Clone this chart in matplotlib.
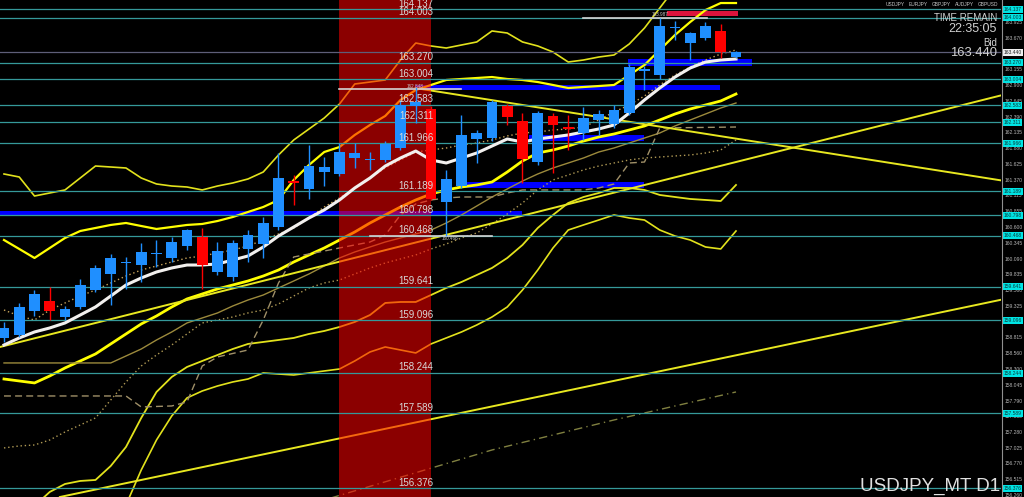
import matplotlib
matplotlib.use("Agg")
import matplotlib.pyplot as plt
from matplotlib.transforms import blended_transform_factory
from matplotlib.patches import Rectangle
from matplotlib.lines import Line2D

plt.rcParams['font.family'] = ['Liberation Sans', 'DejaVu Sans']

# ---------------- data ----------------
opens = [158.812, 158.860, 159.249, 159.411, 159.152, 159.314, 159.589, 159.849, 160.027, 159.994,
         160.173, 160.108, 160.302, 160.448, 159.881, 159.800, 160.254, 160.335, 160.610, 161.355,
         161.226, 161.501, 161.469, 161.728, 161.696, 161.696, 161.890, 162.571, 162.522, 161.015,
         161.274, 162.036, 162.052, 162.571, 162.328, 161.663, 162.409, 162.230, 162.133, 162.344,
         162.279, 162.457, 163.138, 163.073, 163.834, 163.591, 163.672, 163.786, 163.364]
highs = [159.071, 159.379, 159.589, 159.638, 159.330, 159.768, 159.994, 160.173, 160.124, 160.351,
         160.399, 160.448, 160.578, 160.594, 160.367, 160.399, 160.561, 160.772, 161.809, 161.453,
         161.939, 161.744, 161.971, 161.971, 161.825, 162.003, 162.668, 162.878, 162.571, 161.534,
         162.425, 162.182, 162.668, 162.603, 162.457, 162.490, 162.457, 162.425, 162.554, 162.506,
         162.587, 163.251, 163.219, 164.003, 163.948, 163.770, 163.932, 163.899, 163.462]
lows = [158.747, 158.828, 159.168, 159.103, 159.103, 159.282, 159.557, 159.346, 159.606, 159.719,
        159.962, 160.043, 160.237, 159.606, 159.832, 159.735, 160.043, 160.108, 160.561, 160.967,
        161.064, 161.274, 161.436, 161.566, 161.534, 161.663, 161.858, 162.295, 161.048, 160.466,
        161.242, 161.647, 162.003, 162.263, 161.323, 161.615, 161.485, 161.858, 162.020, 162.101,
        162.214, 162.425, 162.830, 163.008, 163.640, 163.316, 163.640, 163.348, 163.348]
closes = [158.974, 159.314, 159.525, 159.249, 159.282, 159.670, 159.946, 160.108, 160.043, 160.205,
          160.189, 160.367, 160.561, 159.994, 160.221, 160.351, 160.480, 160.675, 161.404, 161.323,
          161.598, 161.582, 161.825, 161.809, 161.712, 161.955, 162.587, 162.635, 161.064, 161.388,
          162.101, 162.133, 162.635, 162.392, 161.712, 162.457, 162.263, 162.198, 162.376, 162.441,
          162.506, 163.202, 163.170, 163.867, 163.851, 163.753, 163.867, 163.445, 163.440]

ma_white = [158.698, 158.812, 158.909, 158.974, 159.055, 159.184, 159.314, 159.492, 159.670, 159.784,
            159.881, 159.946, 159.994, 159.994, 160.011, 160.075, 160.140, 160.286, 160.464, 160.610,
            160.756, 160.886, 161.048, 161.242, 161.404, 161.598, 161.728, 161.841, 161.696, 161.647,
            161.728, 161.809, 161.922, 162.036, 161.987, 162.036, 162.068, 162.101, 162.149, 162.198,
            162.263, 162.457, 162.668, 162.862, 163.040, 163.186, 163.283, 163.316, 163.332]

band_up2 = [161.469, 161.420, 161.112, 161.161, 161.210, 161.404, 161.598, 161.582, 161.566, 161.404,
            161.307, 161.274, 161.258, 161.210, 161.274, 161.323, 161.388, 161.501, 161.777, 162.020,
            162.198, 162.376, 162.603, 162.927, 162.959, 162.992, 163.316, 163.591, 163.543, 163.510,
            163.559, 163.608, 163.786, 163.753, 163.608, 163.543, 163.445, 163.283, 163.316, 163.364,
            163.397, 163.575, 163.834, 164.158, 164.482]

band_up1 = [160.399, 160.254, 160.108, 160.270, 160.432, 160.545, 160.594, 160.643, 160.675, 160.626,
            160.578, 160.610, 160.643, 160.659, 160.707, 160.772, 160.853, 160.934, 161.048, 161.372,
            161.615, 161.825, 161.906, 162.101, 162.263, 162.409, 162.668, 162.830, 162.911, 162.992,
            163.008, 163.024, 163.040, 163.008, 162.992, 162.959, 162.911, 162.862, 162.878, 162.894,
            162.911, 163.073, 163.235, 163.478, 163.721, 163.932, 164.126, 164.239, 164.239]

ma_yellow = [158.147, 158.115, 158.083, 158.196, 158.326, 158.439, 158.553, 158.715, 158.877, 159.039,
             159.168, 159.314, 159.444, 159.525, 159.606, 159.670, 159.735, 159.816, 159.913, 160.043,
             160.157, 160.270, 160.399, 160.529, 160.675, 160.805, 160.934, 161.048, 161.145, 161.210,
             161.258, 161.291, 161.339, 161.501, 161.680, 161.809, 161.858, 161.922, 162.003, 162.068,
             162.117, 162.182, 162.247, 162.344, 162.441, 162.522, 162.587, 162.652, 162.765]

band_lo1_start = 2
band_lo1 = [156.090, 156.317, 156.446, 156.495, 156.511, 156.738, 157.046, 157.516, 157.937, 158.180,
            158.342, 158.439, 158.536, 158.633, 158.715, 158.747, 158.779, 158.812, 158.877, 158.925,
            158.990, 159.071, 159.184, 159.379, 159.395, 159.395, 159.508, 159.622, 159.719, 159.832,
            159.946, 160.108, 160.319, 160.594, 160.805, 160.999, 161.096, 161.161, 161.242, 161.242,
            161.210, 161.129, 161.096, 161.064, 161.048, 161.031, 161.291]

band_lo2_start = 8
band_lo2 = [156.106, 156.673, 157.159, 157.548, 157.840, 157.953, 158.034, 158.099, 158.147, 158.245,
            158.228, 158.212, 158.245, 158.277, 158.309, 158.439, 158.585, 158.666, 158.617, 158.569,
            158.715, 158.812, 158.909, 159.022, 159.152, 159.314, 159.589, 159.913, 160.270, 160.561,
            160.643, 160.723, 160.805, 160.756, 160.723, 160.561, 160.464, 160.399, 160.286, 160.254,
            160.545]

olive_idx = [0] + list(range(7, 49))
ma_olive = [158.407, 158.407, 158.520, 158.633, 158.779, 158.909, 159.055, 159.136, 159.217, 159.330,
            159.427, 159.508, 159.622, 159.735, 159.849, 159.978, 160.108, 160.205, 160.286, 160.367,
            160.432, 160.497, 160.561, 160.675, 160.805, 160.950, 161.096, 161.226, 161.355, 161.469,
            161.566, 161.647, 161.728, 161.825, 161.890, 161.971, 162.052, 162.133, 162.247, 162.344,
            162.441, 162.538, 162.619]

dotted_a = [159.265, 159.168, 159.103, 159.265, 159.379, 159.492, 159.589, 159.703, 159.816, 159.913,
            159.978, 160.043, 160.108, 160.140, 160.189, 160.237, 160.302, 160.399, 160.497, 160.594,
            160.756, 160.934, 161.080, 161.242, 161.404, 161.566, 161.696, 161.825, 161.858, 161.890,
            161.939, 161.971, 162.020, 162.085, 162.133, 162.149, 162.182, 162.198, 162.230, 162.344,
            162.473, 162.587, 162.733, 162.911, 163.073, 163.202, 163.316, 163.413, 163.478]

dotted_b = [157.030, 157.062, 157.078, 157.159, 157.289, 157.402, 157.516, 157.807, 158.099, 158.358,
            158.536, 158.698, 158.877, 159.055, 159.103, 159.152, 159.217, 159.265, 159.363, 159.492,
            159.622, 159.703, 159.751, 159.849, 159.946, 160.027, 160.092, 160.157, 160.254, 160.335,
            160.432, 160.513, 160.659, 160.821, 160.999, 161.210, 161.372, 161.453, 161.534, 161.598,
            161.647, 161.696, 161.728, 161.744, 161.761, 161.777, 161.809, 161.858, 162.020]

dashed_idx = [0, 8, 9, 11, 12, 13, 14, 16, 17, 18, 19, 20, 21, 22, 23, 24, 25, 26, 27, 28, 29, 30,
              31, 32, 33, 34, 38, 39, 40, 41, 42, 43, 48]
dashed_vals = [157.872, 157.872, 157.694, 157.710, 157.775, 158.358, 158.504, 158.617, 159.103, 159.703,
               160.124, 160.173, 160.221, 160.270, 160.319, 160.367, 160.480, 160.805, 160.983, 161.048,
               161.080, 161.096, 161.096, 161.096, 161.161, 161.210, 161.210, 161.242, 161.307, 161.647,
               161.663, 162.214, 162.230]

dashdot_idx = [21, 32, 40, 48]
dashdot_vals = [156.187, 156.997, 157.483, 157.937]

# trend lines: (bar index, price) anchor pairs
tl_up_main = [(0, 158.682), (48, 161.663)]
tl_down = [(27, 162.860), (48, 162.042)]
tl_up_low = [(10, 156.563), (48, 158.531)]

levels = [164.137, 164.003, 163.270, 163.004, 162.583, 162.311, 161.966, 161.189,
          160.798, 160.468, 159.641, 159.096, 158.244, 157.589, 156.376]
bid = 163.440

axis_ticks = [163.925, 163.670, 163.410, 163.155, 162.900, 162.645, 162.390, 162.135,
              161.880, 161.625, 161.370, 161.115, 160.855, 160.600, 160.345, 160.090, 159.835,
              159.580, 159.325, 159.070, 158.815, 158.560, 158.300, 158.045, 157.790, 157.535,
              157.280, 157.025, 156.770, 156.515, 156.260]

# blue zones: (start bar, end bar, low price, high price)
zone_x0 = [-0.3, 26.95, 34.4, 29.7, 40.9]
zone_x1 = [34.0, 46.95, 42.0, 42.0, 49.05]
zone_lo = [160.789, 162.831, 162.004, 161.242, 163.219]
zone_hi = [160.870, 162.911, 162.101, 161.339, 163.332]

crimson_zone = (43.5, 48.1, 164.029, 164.110)

# white marker lines: (start bar, end bar, price)
white_x0 = [21.97, 24.0, 38.0]
white_x1 = [30.0, 32.0, 46.1]
white_p = [162.846, 160.466, 164.003]

red_span = (21.97, 28.0)

symbols = ["USDJPY", "EURJPY", "GBPJPY", "AUDJPY", "GBPUSD"]

# ---------------- figure ----------------
W, H = 1024, 497
fig = plt.figure(figsize=(W / 100, H / 100), dpi=100, facecolor='black')
ax = fig.add_axes([0, 0, 1001 / W, 1])
ax.set_facecolor('black')
XMIN, XMAX = -0.262, 65.377
ax.set_xlim(XMIN, XMAX)
ax.set_ylim(156.235, 164.288)
ax.axis('off')

n = len(opens)
idx = list(range(n))

# blue zones
for x0, x1, lo, hi in zip(zone_x0, zone_x1, zone_lo, zone_hi):
    ax.add_patch(Rectangle((x0, lo), x1 - x0, hi - lo, facecolor='#0000ff', edgecolor='none', zorder=1.5))
cx0, cx1, clo, chi = crimson_zone
ax.add_patch(Rectangle((cx0, clo), cx1 - cx0, chi - clo, facecolor='#dc143c', edgecolor='none', zorder=1.5))

yel = '#ffff00'
yel_thin = '#e2e21c'
# bands and MAs
ax.plot(range(len(band_up2)), band_up2, color=yel_thin, lw=1.2, zorder=2)
ax.plot(idx, band_up1, color=yel, lw=1.6, zorder=2)
ax.plot(idx, ma_yellow, color=yel, lw=2.0, zorder=2)
ax.plot(range(band_lo1_start, band_lo1_start + len(band_lo1)), band_lo1, color=yel_thin, lw=1.3, zorder=2)
ax.plot(range(band_lo2_start, band_lo2_start + len(band_lo2)), band_lo2, color=yel_thin, lw=1.2, zorder=2)
ax.plot(olive_idx, ma_olive, color='#9c8a3c', lw=1.0, zorder=2)
ax.plot(idx, dotted_a, color='#c8a45a', lw=1.0, ls=(0, (1, 2)), zorder=2)
ax.plot(idx, dotted_b, color='#b09a55', lw=1.0, ls=(0, (1, 2)), zorder=2)
ax.plot(dashed_idx, dashed_vals, color='#a09068', lw=1.0, ls=(0, (5, 3)), zorder=2)
ax.plot(dashdot_idx, dashdot_vals, color='#808040', lw=1.0, ls=(0, (6, 3, 1, 3)), zorder=2)

# trend lines
ax.axline(tl_up_main[0], tl_up_main[1], color='#e8e820', lw=1.4, zorder=2)
ax.axline(tl_up_low[0], tl_up_low[1], color='#e8e820', lw=1.4, zorder=2)
(x1, y1), (x2, y2) = tl_down
slope = (y2 - y1) / (x2 - x1)
ax.plot([x1, XMAX], [y1, y1 + slope * (XMAX - x1)], color='#e8e820', lw=1.4, zorder=2)

# red time zone (semi-transparent overlay)
ax.axvspan(red_span[0], red_span[1], color='#ff0000', alpha=0.55, lw=0, zorder=3)

# horizontal levels
for lv in levels:
    ax.axhline(lv, color='#35999a', lw=0.9, zorder=3.5)
ax.axhline(bid, color='#5e5e78', lw=0.9, zorder=3.5)

# white marker lines
for x0, x1, p in zip(white_x0, white_x1, white_p):
    ax.plot([x0, x1], [p, p], color='#d4d4d4', lw=1.2, zorder=3.6)

# white MA
ax.plot(idx, ma_white, color='#f2f0ee', lw=2.2, zorder=4)

# candles
blue = '#1f8fff'
red = '#ff0000'
for i in idx:
    o, h, l, c = opens[i], highs[i], lows[i], closes[i]
    col = blue if c >= o else red
    ax.vlines(i, l, h, color=col, lw=1.0, zorder=5)
    bot = min(o, c)
    ht = max(abs(c - o), 0.022)
    ax.add_patch(Rectangle((i - 0.36, bot), 0.72, ht, facecolor=col, edgecolor='none', zorder=5))

# level labels
for lv in levels:
    ax.text(28.15, lv + 0.012, f"{lv:.3f}", ha='right', va='bottom', fontsize=7,
            color='#d8d8d8', zorder=6)

# small price notes
ax.text(26.4, 162.88, "162.848", ha='left', va='center', fontsize=3.3, color='#c8c8c8', zorder=6)
ax.text(28.7, 160.43, "160.466", ha='left', va='center', fontsize=3.3, color='#c8c8c8', zorder=6)
ax.text(42.5, 164.06, "163.987", ha='left', va='center', fontsize=3.3, color='#c8c8c8', zorder=6)

# right price scale
trans = blended_transform_factory(fig.transFigure, ax.transData)
fig.add_artist(Line2D([1002 / W, 1002 / W], [0, 1], transform=fig.transFigure, color='#909090', lw=0.8))
for t in axis_ticks:
    ax.text(1005 / W, t, f"{t:.3f}", transform=trans, ha='left', va='center', fontsize=3.6,
            color='#b4b4b4', clip_on=False, zorder=6)
for lv in levels:
    ax.text(1012.5 / W, lv, f"{lv:.3f}", transform=trans, ha='center', va='center', fontsize=3.6,
            color='#0a3a3a', clip_on=False, zorder=7,
            bbox=dict(boxstyle='square,pad=0.2', fc='#00e4e4', ec='none'))
ax.text(1012.5 / W, bid, f"{bid:.3f}", transform=trans, ha='center', va='center', fontsize=3.6,
        color='#202020', clip_on=False, zorder=7,
        bbox=dict(boxstyle='square,pad=0.2', fc='#eeeeee', ec='none'))

# top-right info
sym_x = [886, 909, 932, 955, 978]
for s, x in zip(symbols, sym_x):
    fig.text(x / W, 1 - 5 / H, s, ha='left', va='center', fontsize=3.5, color='#c8c8c8')
fig.text(997 / W, 1 - 18 / H, "TIME REMAIN", ha='right', va='center', fontsize=7, color='#d0d0d0')
fig.text(997 / W, 1 - 29 / H, "22:35:05", ha='right', va='center', fontsize=9, color='#d0d0d0')
fig.text(997 / W, 1 - 42.5 / H, "Bid", ha='right', va='center', fontsize=7, color='#d0d0d0')
fig.text(997 / W, 1 - 53 / H, f"{bid:.3f}", ha='right', va='center', fontsize=9.4, color='#d0d0d0')
fig.text(1000 / W, 1 - 486 / H, "USDJPY_MT D1", ha='right', va='center', fontsize=13.5, color='#e0e0e0')

fig.savefig("out.png", dpi=100, facecolor='black')
